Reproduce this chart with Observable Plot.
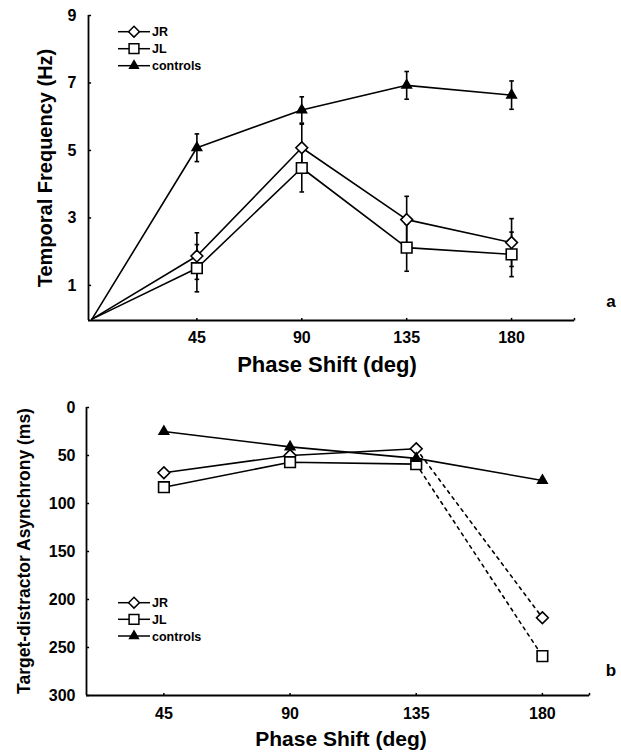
<!DOCTYPE html>
<html><head><meta charset="utf-8">
<script src="https://cdn.jsdelivr.net/npm/d3@7"></script>
<script src="https://cdn.jsdelivr.net/npm/@observablehq/plot@0.6"></script>
<style>
body{margin:0;background:#fff;}
#wrap{position:relative;width:621px;height:754px;font-family:"Liberation Sans",Arial,sans-serif;color:#000;overflow:hidden;}
.abs{position:absolute;}
.t{font-weight:bold;white-space:nowrap;line-height:1;}
</style></head><body><div id="wrap"></div>
<script>
// ---------- data ----------
const phases = [45, 90, 135, 180];
const seriesNames = ["JR", "JL", "controls"];
// panel a: temporal frequency (Hz), mean and error
const jrFreq = [1.87, 5.08, 2.95, 2.27];
const jrErr = [0.69, 0.70, 0.69, 0.71];
const jlFreq = [1.51, 4.48, 2.12, 1.92];
const jlErr = [0.70, 0.71, 0.70, 0.66];
const ctrlFreq = [5.08, 6.20, 6.93, 6.64];
const ctrlErr = [0.41, 0.39, 0.41, 0.42];
const originPhase = 0, originFreq = 0;
const freqTicks = [1, 3, 5, 7, 9];
// panel b: target-distractor asynchrony (ms)
const jrAsync = [68, 50, 43, 219];
const jlAsync = [83, 57, 59, 259];
const ctrlAsync = [25, 41, 53, 76];
const asyncTicks = [0, 50, 100, 150, 200, 250, 300];

// ---------- helpers ----------
const FONT = "Liberation Sans, Arial, sans-serif";
const symbolOf = {JR: "diamond2", JL: "square", controls: "triangle"};
const rOf = {JR: 5.3, JL: 6.0, controls: 3.5};
const fillOf = {JR: "white", JL: "white", controls: "black"};
const cap = {draw(ctx, size) { const r = Math.sqrt(size / Math.PI); ctx.moveTo(-r, 0); ctx.lineTo(r, 0); }};
// inward tick symbols (one-sided)
const tickRight = {draw(ctx, size) { const r = Math.sqrt(size / Math.PI); ctx.moveTo(0, 0); ctx.lineTo(r, 0); }};
const tickUp = {draw(ctx, size) { const r = Math.sqrt(size / Math.PI); ctx.moveTo(0, 0); ctx.lineTo(0, -r); }};

const freqData = {JR: [jrFreq, jrErr], JL: [jlFreq, jlErr], controls: [ctrlFreq, ctrlErr]};
const rowsA = seriesNames.flatMap(s => phases.map((p, i) => ({series: s, phase: p, freq: freqData[s][0][i], err: freqData[s][1][i]})));
const lineRowsA = seriesNames.flatMap(s => [{series: s, phase: originPhase, freq: originFreq}, ...rowsA.filter(d => d.series === s)]);

const asyncData = {JR: jrAsync, JL: jlAsync, controls: ctrlAsync};
const rowsB = seriesNames.flatMap(s => phases.map((p, i) => ({series: s, phase: p, ms: asyncData[s][i], idx: i})));
const solidB = rowsB.filter(d => d.series === "controls" || d.idx <= 2);
const dashedB = rowsB.filter(d => d.series !== "controls" && d.idx >= 2);

const style = {fontFamily: FONT, fontSize: "16px", fontWeight: "bold", color: "black", background: "white", overflow: "visible"};

function axesMarks(xDom, yDom, xTicks, yTicks, yBottom, xPad, yPad) {
  const xt = [...xTicks, xDom[1]];
  return [
    Plot.axisX({ticks: xTicks, tickSize: 0, tickPadding: xPad, label: null, fontSize: 16, fontWeight: "bold"}),
    Plot.axisY({ticks: yTicks, tickSize: 0, tickPadding: yPad, label: null, fontSize: 16, fontWeight: "bold"}),
    Plot.ruleX([xDom[0]], {stroke: "black", strokeWidth: 1.8}),
    Plot.ruleY([yBottom], {stroke: "black", strokeWidth: 1.8}),
    Plot.dot(yTicks, {x: xDom[0], y: d => d, symbol: tickRight, r: 2.6, stroke: "black", strokeWidth: 1.5}),
    Plot.dot(xt, {x: d => d, y: yBottom, symbol: tickUp, r: 2.6, stroke: "black", strokeWidth: 1.5})
  ];
}

// ---------- panel a ----------
const xDomA = [-1.5, 207];
const yDomA = [-0.04, 9];
const plotA = Plot.plot({
  width: 621, height: 375,
  marginLeft: 88, marginRight: 47, marginTop: 15, marginBottom: 55,
  style,
  x: {domain: xDomA},
  y: {domain: yDomA},
  marks: [
    ...axesMarks(xDomA, yDomA, phases, freqTicks, yDomA[0], 11, 12),
    Plot.line(lineRowsA, {x: "phase", y: "freq", z: "series", stroke: "black", strokeWidth: 1.6}),
    Plot.ruleX(rowsA, {x: "phase", y1: d => d.freq - d.err, y2: d => d.freq + d.err, stroke: "black", strokeWidth: 1.6}),
    Plot.dot(rowsA, {x: "phase", y: d => d.freq - d.err, symbol: cap, r: 2.3, stroke: "black", strokeWidth: 1.6}),
    Plot.dot(rowsA, {x: "phase", y: d => d.freq + d.err, symbol: cap, r: 2.3, stroke: "black", strokeWidth: 1.6}),
    ...seriesNames.map(s => Plot.dot(rowsA.filter(d => d.series === s), {x: "phase", y: "freq", symbol: symbolOf[s], r: rOf[s], fill: fillOf[s], stroke: "black", strokeWidth: 1.6}))
  ]
});

// ---------- panel b ----------
const xDomB = [17.4, 196.8];
const yDomB = [0, 300];
const plotB = Plot.plot({
  width: 621, height: 379,
  marginLeft: 86, marginRight: 32, marginTop: 32, marginBottom: 59,
  style,
  x: {domain: xDomB},
  y: {domain: yDomB, reverse: true},
  marks: [
    ...axesMarks(xDomB, yDomB, phases, asyncTicks, yDomB[1], 12, 11),
    Plot.line(solidB, {x: "phase", y: "ms", z: "series", stroke: "black", strokeWidth: 1.6}),
    Plot.line(dashedB, {x: "phase", y: "ms", z: "series", stroke: "black", strokeWidth: 1.6, strokeDasharray: "3,4.5"}),
    ...seriesNames.map(s => Plot.dot(rowsB.filter(d => d.series === s), {x: "phase", y: "ms", symbol: symbolOf[s], r: rOf[s], fill: fillOf[s], stroke: "black", strokeWidth: 1.6}))
  ]
});

const wrap = document.getElementById("wrap");
plotA.style.position = "absolute"; plotA.style.left = "0px"; plotA.style.top = "0px";
plotB.style.position = "absolute"; plotB.style.left = "0px"; plotB.style.top = "375px";
wrap.appendChild(plotA);
wrap.appendChild(plotB);

// ---------- titles ----------
function addText(txt, size, left, top, rotate) {
  const el = document.createElement("div");
  el.className = "abs t";
  el.textContent = txt;
  el.style.fontSize = size + "px";
  el.style.left = left + "px";
  el.style.top = top + "px";
  el.style.transform = rotate ? "translate(-50%,-50%) rotate(-90deg)" : "translate(-50%,-50%)";
  wrap.appendChild(el);
}
addText("Phase Shift (deg)", 22, 327, 365);
addText("Temporal Frequency (Hz)", 20, 45, 168, true);
addText("a", 17, 611, 301);
addText("Phase Shift (deg)", 21, 341, 738);
addText("Target-distractor Asynchrony (ms)", 17.5, 25, 551, true);
addText("b", 17, 611, 670);

// ---------- legends ----------
const over = d3.select(wrap).append("svg").attr("width", 621).attr("height", 754)
  .style("position", "absolute").style("left", 0).style("top", 0).style("pointer-events", "none");
const d3sym = {JR: d3.symbolDiamond2, JL: d3.symbolSquare, controls: d3.symbolTriangle};
function legend(x0, ys) {
  seriesNames.forEach((s, i) => {
    const g = over.append("g").attr("transform", `translate(${x0},${ys[i]})`);
    g.append("line").attr("x1", 0).attr("x2", 32).attr("stroke", "black").attr("stroke-width", 1.5);
    g.append("path").attr("transform", "translate(16,0)")
      .attr("d", d3.symbol(d3sym[s], Math.PI * rOf[s] * rOf[s] * 0.85)())
      .attr("fill", fillOf[s]).attr("stroke", "black").attr("stroke-width", 1.5);
    g.append("text").attr("x", 34).attr("dy", "0.36em").text(s)
      .attr("font-family", FONT).attr("font-weight", "bold").attr("font-size", 12.5);
  });
}
legend(118, [31.7, 48.7, 65.7]);
legend(118, [602.7, 619.3, 636]);
</script></body></html>
